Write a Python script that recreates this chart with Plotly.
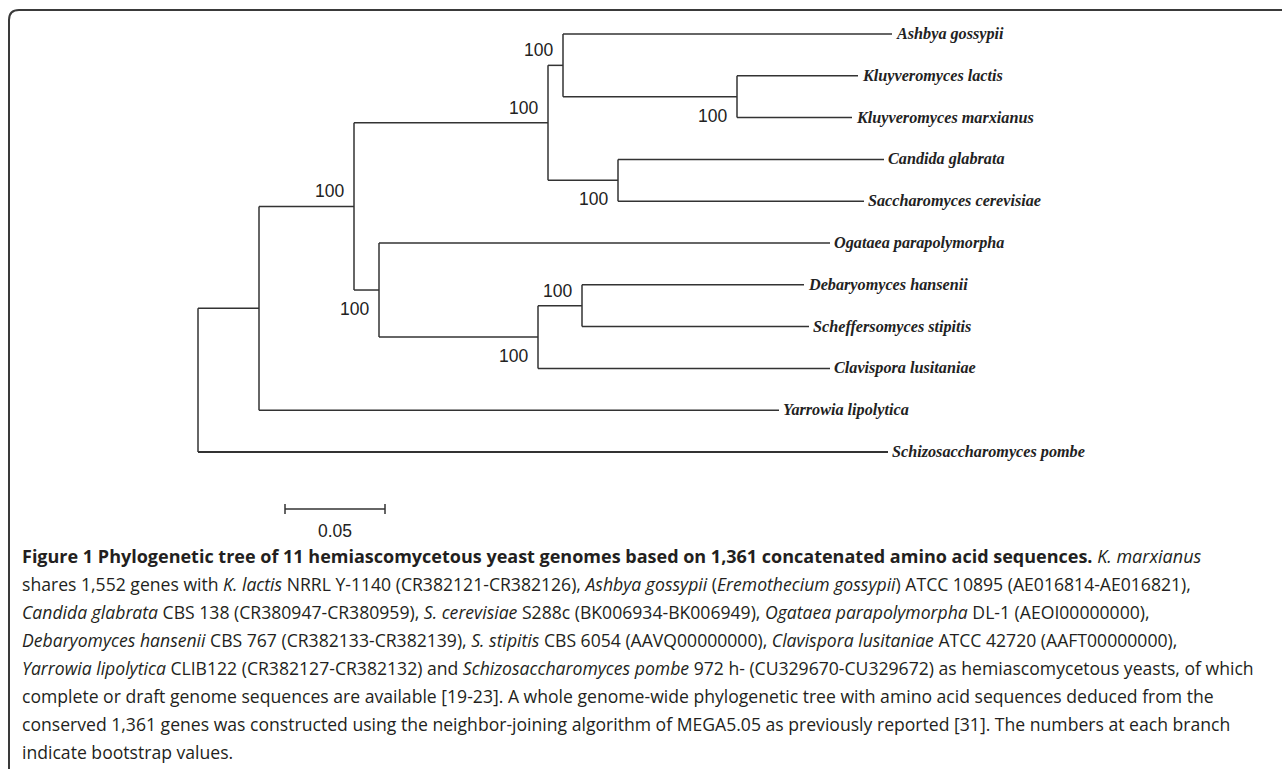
import plotly.graph_objects as go

# ---------------- data ----------------
leaf_order = ["Ashbya gossypii", "Kluyveromyces lactis", "Kluyveromyces marxianus",
              "Candida glabrata", "Saccharomyces cerevisiae", "Ogataea parapolymorpha",
              "Debaryomyces hansenii", "Scheffersomyces stipitis", "Clavispora lusitaniae",
              "Yarrowia lipolytica", "Schizosaccharomyces pombe"]

edge_parent = ["root", "root", "n1", "n1", "n2", "n2", "n3", "n3", "n4", "n4",
               "n5", "n5", "n6", "n6", "n7", "n7", "n8", "n8", "n9", "n9"]
edge_child = ["n1", "Schizosaccharomyces pombe", "n2", "Yarrowia lipolytica", "n3", "n7",
              "n4", "n6", "Ashbya gossypii", "n5", "Kluyveromyces lactis",
              "Kluyveromyces marxianus", "Candida glabrata", "Saccharomyces cerevisiae",
              "Ogataea parapolymorpha", "n8", "n9", "Clavispora lusitaniae",
              "Debaryomyces hansenii", "Scheffersomyces stipitis"]
edge_length = [0.0305, 0.345, 0.0475, 0.260, 0.097, 0.0125, 0.0075, 0.035, 0.1645, 0.087,
               0.0605, 0.0575, 0.133, 0.123, 0.2255, 0.0795, 0.022, 0.146, 0.111, 0.1135]

bootstrap_nodes = ["n2", "n3", "n4", "n5", "n6", "n7", "n8", "n9"]
bootstrap_values = [100, 100, 100, 100, 100, 100, 100, 100]
bootstrap_side = ["above", "above", "above", "below", "below", "below", "below", "above"]

scale_bar_length = 0.05
scale_bar_label = "0.05"

caption_lines = [
    "<b>Figure 1 Phylogenetic tree of 11 hemiascomycetous yeast genomes based on 1,361 concatenated amino acid sequences.</b> <i>K. marxianus</i>",
    "shares 1,552 genes with <i>K. lactis</i> NRRL Y-1140 (CR382121-CR382126), <i>Ashbya gossypii</i> (<i>Eremothecium gossypii</i>) ATCC 10895 (AE016814-AE016821),",
    "<i>Candida glabrata</i> CBS 138 (CR380947-CR380959), <i>S. cerevisiae</i> S288c (BK006934-BK006949), <i>Ogataea parapolymorpha</i> DL-1 (AEOI00000000),",
    "<i>Debaryomyces hansenii</i> CBS 767 (CR382133-CR382139), <i>S. stipitis</i> CBS 6054 (AAVQ00000000), <i>Clavispora lusitaniae</i> ATCC 42720 (AAFT00000000),",
    "<i>Yarrowia lipolytica</i> CLIB122 (CR382127-CR382132) and <i>Schizosaccharomyces pombe</i> 972 h- (CU329670-CU329672) as hemiascomycetous yeasts, of which",
    "complete or draft genome sequences are available [19-23]. A whole genome-wide phylogenetic tree with amino acid sequences deduced from the",
    "conserved 1,361 genes was constructed using the neighbor-joining algorithm of MEGA5.05 as previously reported [31]. The numbers at each branch",
    "indicate bootstrap values.",
]

# ---------------- layout geometry ----------------
W, H = 1282, 769
X0_PX, PX_PER_UNIT = 198, 2000.0      # root pixel position and pixels per substitution unit
Y0_PX, PX_PER_LEAF = 34, 41.8         # first leaf pixel row and leaf spacing

# ---------------- tree coordinates ----------------
xpos = {"root": 0.0}
for p, c, l in zip(edge_parent, edge_child, edge_length):
    xpos[c] = xpos[p] + l

children = {}
for p, c in zip(edge_parent, edge_child):
    children.setdefault(p, []).append(c)

ypos = {name: i for i, name in enumerate(leaf_order)}


def get_y(n):
    if n in ypos:
        return ypos[n]
    ys = [get_y(c) for c in children[n]]
    ypos[n] = (min(ys) + max(ys)) / 2.0
    return ypos[n]


get_y("root")

outgroup = leaf_order[-1]
lx, ly = [], []
ox, oy = [], []
for p, ch in children.items():
    ys = [ypos[c] for c in ch]
    lx += [xpos[p], xpos[p], None]
    ly += [min(ys), max(ys), None]
for p, c in zip(edge_parent, edge_child):
    if c == outgroup:
        ox += [xpos[p], xpos[c]]
        oy += [ypos[c], ypos[c]]
    else:
        lx += [xpos[p], xpos[c], None]
        ly += [ypos[c], ypos[c], None]

line_col = "#333333"
fig = go.Figure()
fig.add_trace(go.Scatter(x=lx, y=ly, mode="lines", line=dict(color=line_col, width=1.5),
                         hoverinfo="skip", showlegend=False))
fig.add_trace(go.Scatter(x=ox, y=oy, mode="lines", line=dict(color=line_col, width=2),
                         hoverinfo="skip", showlegend=False))

# scale bar
sb_x0 = (285 - X0_PX) / PX_PER_UNIT
sb_y = (509 - Y0_PX) / PX_PER_LEAF
tick = 5 / PX_PER_LEAF
fig.add_trace(go.Scatter(
    x=[sb_x0, sb_x0 + scale_bar_length, None, sb_x0, sb_x0, None,
       sb_x0 + scale_bar_length, sb_x0 + scale_bar_length],
    y=[sb_y, sb_y, None, sb_y - tick, sb_y + tick, None, sb_y - tick, sb_y + tick],
    mode="lines", line=dict(color=line_col, width=1.5), hoverinfo="skip", showlegend=False))

annotations = []
# leaf labels
for name in leaf_order:
    annotations.append(dict(x=xpos[name], y=ypos[name], text=name, showarrow=False,
                            xanchor="left", yanchor="middle", xshift=2,
                            font=dict(family="Liberation Serif", size=16.2, color="#222222",
                                      weight="bold", style="italic")))
# bootstrap labels
for n, v, s in zip(bootstrap_nodes, bootstrap_values, bootstrap_side):
    annotations.append(dict(x=xpos[n], y=ypos[n], text=str(v), showarrow=False,
                            xanchor="right", yanchor="middle", xshift=-8,
                            yshift=15 if s == "above" else -19,
                            font=dict(family="Liberation Sans", size=17.5, color="#222222")))
# scale bar label
annotations.append(dict(x=sb_x0 + scale_bar_length / 2, y=sb_y, text=scale_bar_label,
                        showarrow=False, xanchor="center", yanchor="middle", yshift=-22,
                        font=dict(family="Liberation Sans", size=17.5, color="#222222")))
# caption
for k, t in enumerate(caption_lines):
    annotations.append(dict(x=20 / W, y=1 - (556 + 28 * k) / H, xref="paper", yref="paper",
                            text=t, showarrow=False, xanchor="left", yanchor="middle",
                            font=dict(family="Open Sans", size=18.0 if k == 0 else 17.6,
                                      color="#231f20")))

# frame with rounded top-left corner
fx, fy, r = 9 / W, 1 - 10 / H, 10
frame_path = (f"M {fx},-0.01 L {fx},{1 - (10 + r) / H} "
              f"Q {fx},{fy} {(9 + r) / W},{fy} L 1.01,{fy}")

fig.update_layout(
    width=W, height=H, margin=dict(l=0, r=0, t=0, b=0),
    paper_bgcolor="white", plot_bgcolor="white",
    xaxis=dict(range=[-X0_PX / PX_PER_UNIT, (W - X0_PX) / PX_PER_UNIT], visible=False,
               fixedrange=True),
    yaxis=dict(range=[(H - Y0_PX) / PX_PER_LEAF, -Y0_PX / PX_PER_LEAF], visible=False,
               fixedrange=True),
    annotations=annotations,
    shapes=[dict(type="path", path=frame_path, xref="paper", yref="paper",
                 line=dict(color="#3a3a3a", width=2))],
)

fig.write_html("out.html", config={"displayModeBar": False},
               post_script="document.body.style.margin='0';")
